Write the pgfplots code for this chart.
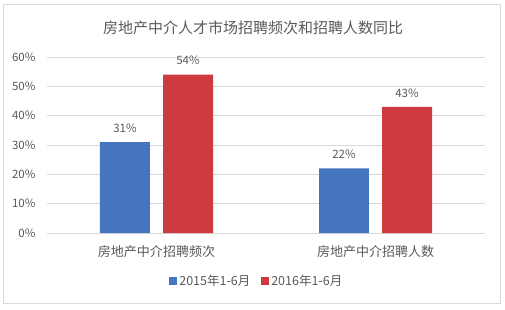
\documentclass[border=0pt]{standalone}
\usepackage{pgfplots}
\pgfplotsset{compat=1.18}
\usepackage{fontspec}
\setmainfont{Noto Sans CJK SC}
\definecolor{barblue}{HTML}{4675C0}
\definecolor{barred}{HTML}{CD3B41}
\definecolor{txt}{HTML}{595959}
\definecolor{gridc}{HTML}{D9D9D9}
\begin{document}
\begin{tikzpicture}
\useasboundingbox (-47pt,-76pt) rectangle (458pt,233pt);
\draw[gridc, line width=0.8pt] (-44pt,229pt) rectangle (453pt,-70pt);
\node[txt, font=\fontsize{15}{18}\selectfont] at (206pt,205pt) {房地产中介人才市场招聘频次和招聘人数同比};
\begin{axis}[
  at={(0,0)}, anchor=south west,
  scale only axis, width=438pt, height=176pt,
  ybar, bar width=0.228,
  xmin=-0.5, xmax=1.5, ymin=0, ymax=60,
  xtick=data, xticklabels={房地产中介招聘频次,房地产中介招聘人数},
  ytick={0,10,...,60},
  yticklabel={\pgfmathprintnumber{\tick}\%},
  /pgf/number format/assume math mode=true,
  axis line style={draw=none},
  major tick length=0pt,
  ymajorgrids, grid style={gridc, line width=0.8pt},
  xticklabel style={font=\fontsize{13}{15}\selectfont, text=txt, yshift=-9pt},
  yticklabel style={font=\fontsize{11.5}{13}\selectfont, text=txt, xshift=-8pt},
  nodes near coords={\pgfmathprintnumber{\pgfplotspointmeta}\%},
  nodes near coords style={font=\fontsize{11.5}{13}\selectfont, text=txt, yshift=6pt},
  legend style={at={(0.479,-0.273)}, anchor=center, draw=none, fill=none,
    legend columns=2, font=\fontsize{12.5}{14}\selectfont, text=txt,
    /tikz/every even column/.append style={column sep=9pt}},
  legend image code/.code={\fill[#1] (0pt,-4pt) rectangle (8pt,4pt);},
]
\addplot[fill=barblue, draw=none, bar shift=-0.144] coordinates {(0,31) (1,22)};
\addplot[fill=barred, draw=none, bar shift=0.144] coordinates {(0,54) (1,43)};
\legend{2015年1-6月,2016年1-6月}
\end{axis}
\end{tikzpicture}
\end{document}
